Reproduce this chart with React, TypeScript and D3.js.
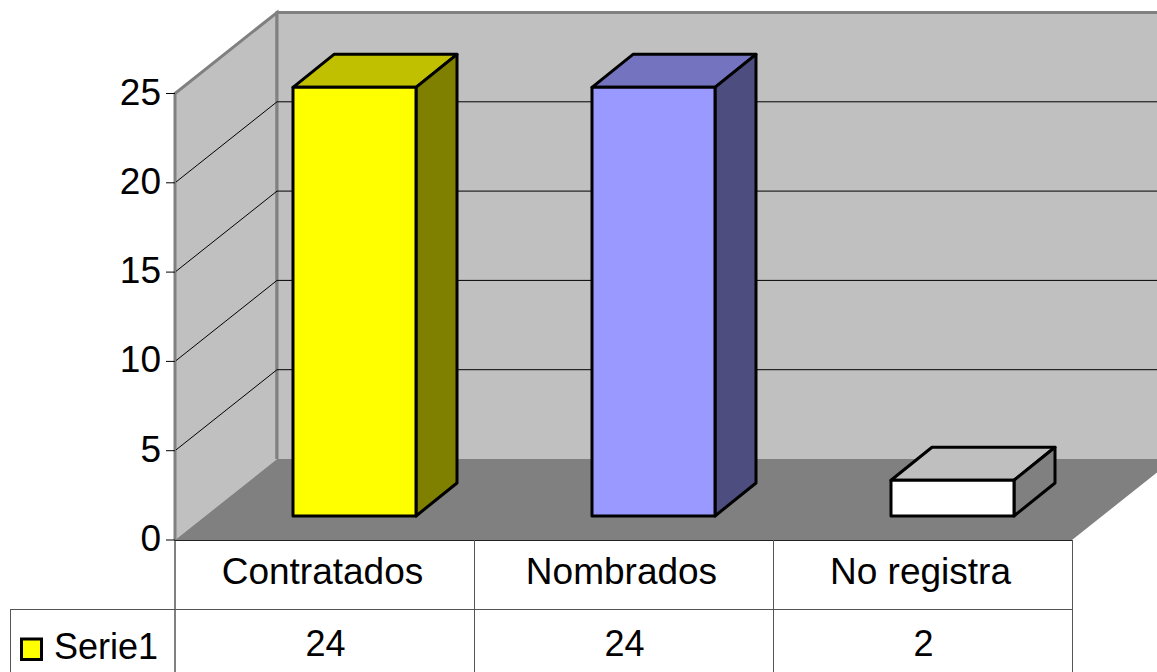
import React, { useEffect, useRef } from "react";
import * as d3 from "d3";

const categories = ["Contratados", "Nombrados", "No registra"];
const values = [24, 24, 2];
const yTicks = [0, 5, 10, 15, 20, 25];
const seriesName = "Serie1";
const fronts = ["#ffff00", "#9999ff", "#ffffff"];
const tops = ["#c0c000", "#7373bf", "#bfbfbf"];
const sides = ["#808000", "#4d4d80", "#808080"];

const width = 1157;
const height = 672;
const font = "'Liberation Sans', Arial, sans-serif";

const App = () => {
  const ref = useRef<SVGSVGElement>(null);

  useEffect(() => {
    const svg = d3.select(ref.current);
    svg.selectAll("*").remove();

    const x = d3.scaleBand<string>().domain(categories).range([175, 1072]);
    const y = d3.scaleLinear().domain([0, 25]).range([540, 93.5]);
    const depth = { x: 102, y: -81 }; // how far the back wall sits from the front
    const barOffset = { x: 30, y: -24 };
    const barDepth = { x: 41, y: -33 };
    const barWidth = 123;
    const line = d3.line();

    const x0 = 175;
    const x1 = 1072;
    const y0 = y(0);
    const yTop = y(25);

    // walls
    svg
      .append("path")
      .attr(
        "d",
        line([
          [x0, y0],
          [x0, yTop],
          [x0 + depth.x, yTop + depth.y],
          [x0 + depth.x, y0 + depth.y],
        ])
      )
      .attr("fill", "#c0c0c0")
      .attr("stroke", "#808080")
      .attr("stroke-width", 3);
    svg
      .append("path")
      .attr(
        "d",
        line([
          [x0 + depth.x, y0 + depth.y],
          [x0 + depth.x, yTop + depth.y],
          [x1 + depth.x, yTop + depth.y],
          [x1 + depth.x, y0 + depth.y],
        ])
      )
      .attr("fill", "#c0c0c0")
      .attr("stroke", "#808080")
      .attr("stroke-width", 3);

    // floor
    svg
      .append("path")
      .attr(
        "d",
        line([
          [x0, y0],
          [x0 + depth.x, y0 + depth.y],
          [x1 + depth.x, y0 + depth.y],
          [x1, y0],
        ])
      )
      .attr("fill", "#808080");

    // gridlines
    yTicks
      .filter((d) => d > 0 && d < 25)
      .forEach((d) => {
        svg
          .append("path")
          .attr(
            "d",
            line([
              [x0, y(d)],
              [x0 + depth.x, y(d) + depth.y],
              [x1 + depth.x, y(d) + depth.y],
            ])
          )
          .attr("fill", "none")
          .attr("stroke", "#000")
          .attr("stroke-width", 1);
      });

    // bars
    categories.forEach((c, i) => {
      const left = x(c) + (x.bandwidth() - barWidth) / 2 + barOffset.x;
      const right = left + barWidth;
      const bottom = y(0) + barOffset.y;
      const top = y(values[i]) + barOffset.y;
      const g = svg
        .append("g")
        .attr("stroke", "#000")
        .attr("stroke-width", 3)
        .attr("stroke-linejoin", "round");
      g.append("path")
        .attr(
          "d",
          line([
            [left, top],
            [left + barDepth.x, top + barDepth.y],
            [right + barDepth.x, top + barDepth.y],
            [right, top],
          ]) + "Z"
        )
        .attr("fill", tops[i]);
      g.append("path")
        .attr(
          "d",
          line([
            [right, top],
            [right + barDepth.x, top + barDepth.y],
            [right + barDepth.x, bottom + barDepth.y],
            [right, bottom],
          ]) + "Z"
        )
        .attr("fill", sides[i]);
      g.append("rect")
        .attr("x", left)
        .attr("y", top)
        .attr("width", barWidth)
        .attr("height", bottom - top)
        .attr("fill", fronts[i]);
    });

    // y axis
    const axis = svg.append("g");
    axis
      .append("line")
      .attr("x1", x0)
      .attr("x2", x0)
      .attr("y1", yTop)
      .attr("y2", height)
      .attr("stroke", "#808080")
      .attr("stroke-width", 2);
    yTicks.forEach((d) => {
      axis
        .append("line")
        .attr("x1", x0 - 9)
        .attr("x2", x0)
        .attr("y1", y(d))
        .attr("y2", y(d))
        .attr("stroke", "#000");
      axis
        .append("text")
        .attr("x", x0 - 14)
        .attr("y", y(d) + 11)
        .attr("text-anchor", "end")
        .attr("font-family", font)
        .attr("font-size", 37)
        .text(d);
    });

    // data table
    const rowY = 609;
    const table = svg
      .append("g")
      .attr("stroke", "#555")
      .attr("stroke-width", 1)
      .attr("shape-rendering", "crispEdges");
    table.append("line").attr("x1", x0).attr("x2", x1).attr("y1", y0).attr("y2", y0).attr("stroke", "#222");
    table.append("line").attr("x1", 10).attr("x2", x1).attr("y1", rowY).attr("y2", rowY);
    table.append("line").attr("x1", 10).attr("x2", 10).attr("y1", rowY).attr("y2", height);
    categories.forEach((c) => {
      const edge = x(c) + x.bandwidth();
      table.append("line").attr("x1", edge).attr("x2", edge).attr("y1", y0).attr("y2", height);
    });

    categories.forEach((c, i) => {
      const cx = x(c) + x.bandwidth() / 2;
      svg
        .append("text")
        .attr("x", cx - 2)
        .attr("y", 584)
        .attr("text-anchor", "middle")
        .attr("font-family", font)
        .attr("font-size", 37)
        .text(c);
      svg
        .append("text")
        .attr("x", cx + 1)
        .attr("y", 656)
        .attr("text-anchor", "middle")
        .attr("font-family", font)
        .attr("font-size", 36)
        .text(values[i]);
    });

    // legend
    svg
      .append("rect")
      .attr("x", 21.5)
      .attr("y", 639)
      .attr("width", 20)
      .attr("height", 20.5)
      .attr("fill", fronts[0])
      .attr("stroke", "#000")
      .attr("stroke-width", 3);
    svg
      .append("text")
      .attr("x", 54)
      .attr("y", 659)
      .attr("font-family", font)
      .attr("font-size", 36)
      .text(seriesName);
  }, []);

  return (
    <svg
      ref={ref}
      width={width}
      height={height}
      style={{ position: "absolute", left: 0, top: 0, background: "#fff" }}
    ></svg>
  );
};

export default App;
